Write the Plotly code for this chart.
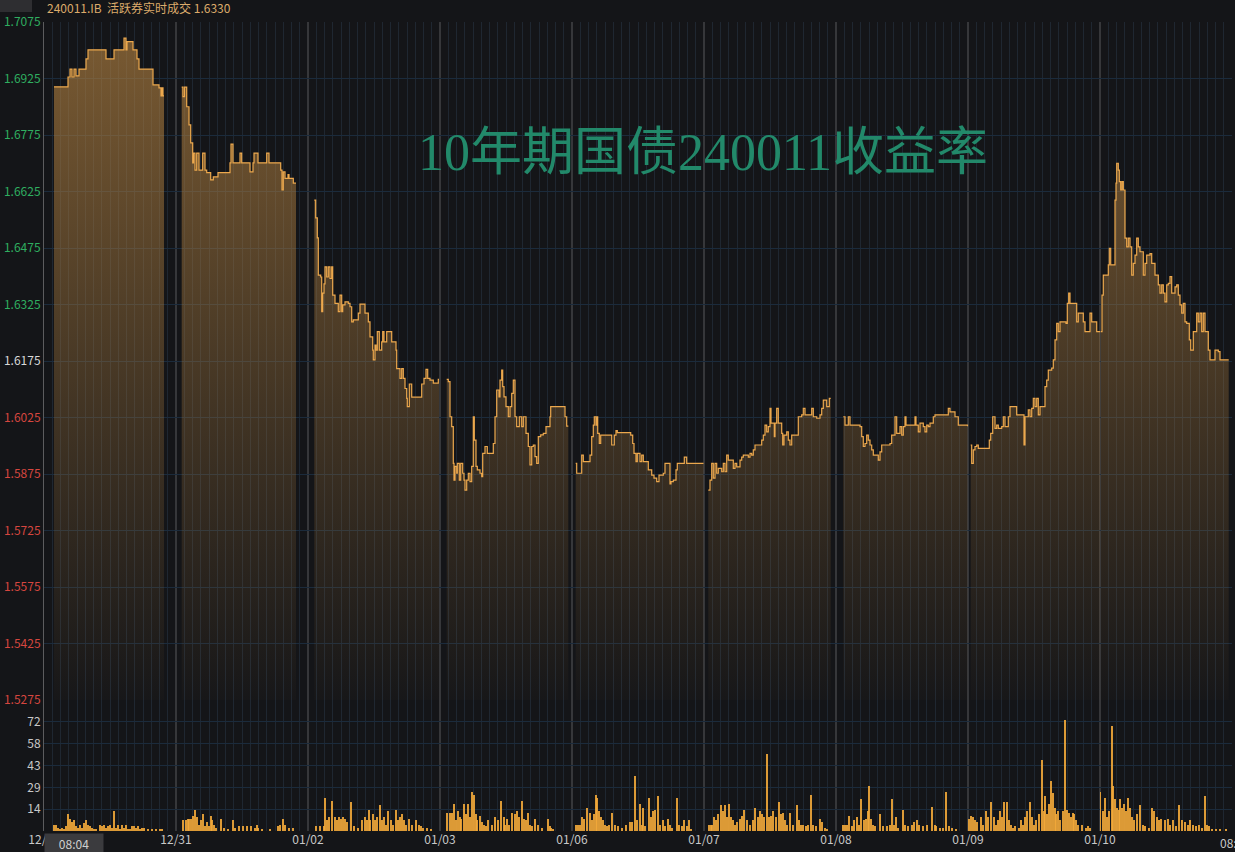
import plotly.graph_objects as go

# ---------------- data ----------------
DAY_LEN = 132  # time slots per trading session on the x axis
day_labels = ["12/30", "12/31", "01/02", "01/03", "01/06", "01/07", "01/08", "01/09", "01/10"]
end_label = "08:04"

# yield change points per session: (slot, yield)
yld_1230 = [(10, 1.6903), (24, 1.6929), (26, 1.6950), (28, 1.6929), (30, 1.6950), (32, 1.6932), (35, 1.6950),
            (42, 1.6977), (44, 1.7001), (62, 1.6977), (70, 1.7001), (80, 1.7032), (82, 1.7001), (83, 1.7023),
            (89, 1.7001), (93, 1.6977), (95, 1.6950), (109, 1.6908), (115, 1.6900), (117, 1.6879), (118, 1.6900),
            (119, 1.6879), (120, 1.6879)]
yld_1231 = [(5.7, 1.6902), (7, 1.6877), (8.5, 1.6902), (10.7, 1.6850), (13, 1.6802), (14.7, 1.6754), (16.7, 1.6701),
            (17.5, 1.6727), (19, 1.6682), (20.7, 1.6727), (23, 1.6682), (26.7, 1.6727), (29, 1.6682), (30.7, 1.6675),
            (34.7, 1.6656), (37.3, 1.6664), (42, 1.6675), (54, 1.6701), (55, 1.6751), (57, 1.6701), (64, 1.6727),
            (65.7, 1.6701), (74, 1.6677), (77, 1.6701), (78, 1.6727), (82, 1.6701), (90.7, 1.6727), (93, 1.6701),
            (104.7, 1.6682), (106, 1.6629), (107.3, 1.6677), (109, 1.6660), (112, 1.6670), (113, 1.6660),
            (117.3, 1.6647), (120, 1.6647)]
yld_0102 = [(6.3, 1.6602), (7.7, 1.6555), (9.3, 1.6502), (10.3, 1.6403), (12.7, 1.6398), (13.7, 1.6306), (14.7, 1.6355),
            (16, 1.6380), (17, 1.6425), (18.7, 1.6398), (20.3, 1.6425), (22, 1.6394), (23.7, 1.6425), (24.7, 1.6350),
            (27, 1.6328), (30.3, 1.6306), (32, 1.6350), (33.7, 1.6306), (34.7, 1.6324), (37, 1.6332), (40.3, 1.6328),
            (42, 1.6319), (43.7, 1.6279), (45.3, 1.6284), (50.3, 1.6302), (52, 1.6326), (55.3, 1.6326), (57, 1.6302),
            (60.3, 1.6279), (62, 1.6239), (64.7, 1.6204), (65.3, 1.6178), (67, 1.6217), (68, 1.6204), (69.3, 1.6253),
            (71.3, 1.6204), (73.7, 1.6226), (74.7, 1.6253), (76, 1.6226), (78.7, 1.6253), (82, 1.6253), (83.7, 1.6226),
            (87, 1.6226), (88, 1.6204), (88.7, 1.6155), (92, 1.6129), (93.7, 1.6155), (95.3, 1.6129), (97, 1.6102),
            (98.7, 1.6076), (99.3, 1.6054), (101.3, 1.6114), (103.7, 1.6079), (112, 1.6079), (113.7, 1.6114),
            (116, 1.6129), (118, 1.6153), (119.7, 1.6129), (122, 1.6124), (125.3, 1.6116), (130.3, 1.6126), (131, 1.6126)]
yld_0103 = [(6.7, 1.6126), (8.3, 1.6120), (10, 1.6027), (11.7, 1.6001), (13.3, 1.5903), (14, 1.5859), (15, 1.5895),
            (16.7, 1.5877), (17.3, 1.5903), (19.3, 1.5859), (20.7, 1.5903), (22.7, 1.5877), (24, 1.5859), (25, 1.5832),
            (26.7, 1.5859), (28.3, 1.5877), (30, 1.5855), (31.7, 1.5895), (33.3, 1.6027), (34.3, 1.5965), (36, 1.5895),
            (37.3, 1.5886), (40, 1.5877), (41.7, 1.5868), (42.7, 1.5930), (45, 1.5948), (47.3, 1.5930), (53.3, 1.5956),
            (55, 1.6027), (56.7, 1.6098), (59, 1.6080), (60, 1.6124), (61.7, 1.6151), (62.7, 1.6107), (64, 1.6080),
            (66, 1.6054), (68.3, 1.6027), (70, 1.6054), (71.7, 1.6089), (73.3, 1.6124), (75, 1.6027), (76.7, 1.6001),
            (79.3, 1.6027), (81.7, 1.6001), (83.3, 1.6027), (86, 1.5983), (88.3, 1.5948), (90, 1.5899), (91.7, 1.5948),
            (93.3, 1.5952), (95, 1.5921), (96.7, 1.5903), (98.3, 1.5974), (100.7, 1.5979), (103.3, 1.5983),
            (106, 1.6001), (110, 1.6027), (110.7, 1.6054), (123.3, 1.6054), (125, 1.6027), (126.7, 1.6002),
            (128.3, 1.6002)]
yld_0106 = [(3.7, 1.5903), (4.7, 1.5877), (9.7, 1.5925), (11.3, 1.5908), (18, 1.5925), (19.7, 1.5974), (21.3, 1.6005),
            (22.3, 1.6027), (24, 1.6005), (24.7, 1.6027), (25.7, 1.5983), (27.3, 1.5956), (28.7, 1.5978), (39.7, 1.5952),
            (42.3, 1.5978), (44, 1.5990), (45.3, 1.5985), (58.7, 1.5978), (60.7, 1.5956), (62, 1.5930), (64, 1.5908),
            (65.3, 1.5930), (68, 1.5908), (69.7, 1.5925), (71.3, 1.5908), (76.3, 1.5886), (79.7, 1.5872), (82, 1.5864),
            (84.7, 1.5855), (87, 1.5872), (91.3, 1.5877), (93, 1.5903), (96.3, 1.5903), (98, 1.5849), (99, 1.5855),
            (101.3, 1.5859), (104, 1.5886), (105.3, 1.5903), (112.3, 1.5920), (114.7, 1.5903), (131.5, 1.5903)]
yld_0107 = [(4.3, 1.5832), (6, 1.5859), (7.7, 1.5903), (9.3, 1.5864), (11, 1.5903), (12.7, 1.5877), (14.3, 1.5890),
            (17.7, 1.5881), (19.3, 1.5903), (21, 1.5881), (22.7, 1.5925), (24.3, 1.5912), (29.3, 1.5890), (31, 1.5903),
            (32.7, 1.5894), (36, 1.5912), (37.7, 1.5920), (39.3, 1.5925), (44.3, 1.5920), (46, 1.5930), (47.7, 1.5925),
            (49.3, 1.5939), (51, 1.5952), (57.7, 1.5965), (59.3, 1.5978), (61, 1.6005), (62.7, 1.5987), (64.3, 1.6001),
            (66, 1.6049), (67, 1.6010), (70.3, 1.5974), (71, 1.6010), (72.7, 1.6049), (74.3, 1.6010), (77.7, 1.5983),
            (78.7, 1.5952), (80, 1.5978), (82.7, 1.5987), (84.3, 1.5965), (86, 1.5952), (87.7, 1.5978), (94.3, 1.6027),
            (97.7, 1.6032), (99.3, 1.6049), (101, 1.6032), (107.7, 1.6049), (109.3, 1.6027), (112.7, 1.6023),
            (116, 1.6032), (117.7, 1.6049), (119.3, 1.6071), (122.7, 1.6054), (125.3, 1.6076), (126.7, 1.6076)]
yld_0108 = [(7.3, 1.6027), (9, 1.6005), (12.3, 1.6027), (14, 1.6005), (24, 1.6001), (25.7, 1.5974), (27.3, 1.5948),
            (29, 1.5956), (30.7, 1.5978), (32.3, 1.5965), (34, 1.5952), (35.7, 1.5939), (37.3, 1.5925), (42.3, 1.5912),
            (44, 1.5934), (45.7, 1.5952), (54, 1.5956), (55.7, 1.5978), (59, 1.6027), (60.7, 1.5983), (64, 1.6001),
            (65.7, 1.5978), (67.3, 1.6001), (69, 1.6027), (70, 1.6005), (79, 1.6027), (80, 1.6005), (82.3, 1.5987),
            (84, 1.6010), (87.3, 1.6001), (89, 1.5987), (90.7, 1.6005), (92.3, 1.6001), (94, 1.6010), (97.3, 1.6027),
            (99, 1.6032), (112.3, 1.6049), (114, 1.6040), (119, 1.6027), (122.3, 1.6005), (131.5, 1.6002)]
yld_0109 = [(2.7, 1.5952), (3.7, 1.5903), (5.3, 1.5939), (7, 1.5948), (8.7, 1.5952), (10.3, 1.5943), (18.7, 1.5943),
            (21.3, 1.5965), (22.7, 1.5983), (24.7, 1.6027), (27, 1.5996), (28.7, 1.6005), (30.3, 1.5996), (33.7, 1.6001),
            (35.3, 1.6027), (37, 1.6001), (40.3, 1.6027), (42, 1.6054), (47, 1.6054), (48.7, 1.6032), (55.3, 1.6032),
            (56, 1.5952), (57, 1.6027), (60.3, 1.6045), (62, 1.6027), (63.7, 1.6049), (65.3, 1.6076), (67, 1.6054),
            (68.7, 1.6076), (70.3, 1.6032), (72, 1.6054), (77, 1.6107), (78.7, 1.6124), (80.3, 1.6151), (83.7, 1.6156),
            (85.3, 1.6178), (87, 1.6231), (88.7, 1.6275), (90.3, 1.6253), (92, 1.6279), (98, 1.6275), (99.3, 1.6328),
            (100.7, 1.6355), (102, 1.6328), (107, 1.6328), (108.7, 1.6279), (110.3, 1.6302), (113.7, 1.6302),
            (115.3, 1.6279), (117, 1.6253), (120.3, 1.6253), (122, 1.6302), (123.7, 1.6279), (127, 1.6279),
            (128.7, 1.6253), (132, 1.6253)]
yld_0110 = [(0.7, 1.6253), (2, 1.6350), (3.3, 1.6403), (8.3, 1.6430), (9.3, 1.6474), (10.7, 1.6430), (15, 1.6602),
            (16, 1.6647), (16.7, 1.6700), (18.3, 1.6682), (19.3, 1.6651), (20.7, 1.6629), (22, 1.6651), (23.3, 1.6629),
            (25, 1.6501), (26.7, 1.6478), (28.3, 1.6501), (30, 1.6478), (31.7, 1.6403), (33.3, 1.6434), (35, 1.6456),
            (36.7, 1.6501), (38.3, 1.6478), (40, 1.6465), (43.3, 1.6403), (45, 1.6434), (46.7, 1.6456), (50, 1.6460),
            (51.7, 1.6434), (55, 1.6403), (58.3, 1.6377), (60, 1.6355), (61.7, 1.6377), (63.3, 1.6355), (65, 1.6332),
            (66.7, 1.6377), (68.3, 1.6381), (70, 1.6399), (71.7, 1.6355), (75, 1.6372), (76.7, 1.6377), (78.3, 1.6350),
            (80, 1.6324), (81.7, 1.6302), (83.3, 1.6328), (85, 1.6279), (86.7, 1.6275), (89.3, 1.6231), (90.7, 1.6204),
            (93.3, 1.6253), (96.7, 1.6302), (98.3, 1.6279), (100, 1.6302), (101.7, 1.6253), (103.3, 1.6302),
            (105, 1.6253), (108.3, 1.6204), (110, 1.6178), (115, 1.6204), (118.3, 1.6200), (120, 1.6178),
            (128.7, 1.6178)]

# traded volume per session: (slot, volume)
vol_1230 = [(10, 4), (12, 4), (14, 2), (16, 1), (18, 2), (20, 1), (22, 3), (24, 11), (26, 8), (28, 6), (30, 7), (32, 3),
            (34, 2), (36, 4), (38, 2), (40, 5), (42, 7), (44, 4), (46, 3), (48, 2), (50, 1), (52, 1), (56, 4), (58, 3),
            (60, 4), (62, 2), (64, 3), (66, 4), (68, 2), (70, 13), (72, 2), (74, 4), (76, 1), (78, 4), (80, 2), (82, 4),
            (84, 1), (86, 1), (88, 3), (90, 3), (92, 2), (94, 3), (96, 1), (98, 2), (100, 2), (104, 1), (108, 1),
            (112, 1), (116, 1), (118, 1)]
vol_1231 = [(7, 7), (10, 7), (12, 8), (13, 8), (15, 8), (17, 10), (19, 14), (21, 9), (23, 4), (25, 7), (27, 11), (29, 3),
            (31, 6), (33, 3), (35, 10), (36, 7), (38, 4), (40, 2), (45, 8), (48, 2), (52, 1), (57, 7), (59, 2), (63, 3),
            (67, 3), (71, 3), (75, 3), (79, 2), (81, 4), (82, 2), (86, 1), (94, 1), (102, 3), (104, 4), (107, 8),
            (109, 4), (113, 2), (117, 2)]
vol_0102 = [(8, 3), (12, 3), (16, 3), (17, 22), (19, 7), (21, 9), (24, 20), (27, 9), (29, 7), (31, 9), (33, 8), (35, 9),
            (37, 8), (39, 6), (43, 19), (46, 3), (50, 2), (54, 7), (57, 9), (59, 7), (61, 14), (62, 7), (65, 11), (67, 7),
            (69, 9), (72, 17), (74, 7), (76, 9), (78, 4), (80, 13), (83, 7), (85, 4), (88, 14), (90, 7), (92, 9),
            (94, 11), (96, 7), (98, 4), (101, 8), (104, 4), (108, 7), (111, 4), (113, 3), (115, 2), (119, 2), (123, 1)]
vol_0103 = [(7, 12), (10, 12), (12, 12), (14, 18), (16, 7), (18, 13), (20, 9), (21, 8), (24, 18), (26, 11), (28, 18),
            (30, 9), (32, 26), (34, 24), (36, 11), (37, 7), (40, 10), (42, 6), (44, 4), (46, 3), (48, 7), (52, 4),
            (55, 9), (58, 7), (61, 20), (64, 9), (65, 4), (67, 8), (69, 4), (72, 12), (75, 11), (77, 13), (79, 9),
            (82, 20), (84, 8), (86, 7), (88, 12), (90, 4), (92, 3), (95, 8), (98, 4), (102, 2), (108, 8), (110, 3),
            (111, 2), (113, 1)]
vol_0106 = [(4, 4), (6, 4), (8, 4), (10, 9), (12, 8), (15, 15), (18, 12), (20, 7), (22, 11), (24, 24), (25, 22), (27, 13),
            (29, 9), (31, 7), (33, 4), (35, 3), (37, 4), (40, 12), (43, 4), (46, 3), (50, 2), (54, 4), (58, 6), (60, 6),
            (63, 36), (65, 7), (68, 18), (70, 4), (71, 15), (73, 3), (77, 22), (79, 9), (81, 13), (83, 14), (86, 23),
            (88, 4), (91, 7), (93, 3), (96, 8), (98, 4), (100, 2), (105, 22), (107, 4), (110, 3), (112, 7), (115, 3),
            (117, 7), (119, 1)]
vol_0107 = [(5, 4), (7, 4), (8, 4), (10, 9), (12, 7), (14, 11), (17, 17), (19, 13), (21, 17), (23, 9), (25, 18), (27, 9),
            (29, 7), (31, 4), (33, 6), (36, 8), (38, 10), (40, 14), (43, 7), (46, 4), (49, 7), (51, 15), (54, 9),
            (56, 13), (58, 11), (60, 9), (63, 51), (65, 9), (67, 10), (69, 13), (72, 9), (75, 19), (77, 11), (79, 12),
            (81, 7), (83, 4), (86, 12), (89, 4), (93, 17), (95, 7), (97, 4), (99, 4), (102, 3), (104, 4), (107, 24),
            (109, 4), (112, 3), (116, 8), (118, 6), (121, 2), (123, 1)]
vol_0108 = [(7, 4), (9, 4), (11, 4), (13, 10), (16, 3), (18, 7), (21, 9), (23, 4), (25, 21), (28, 7), (30, 8), (32, 13),
            (33, 30), (35, 8), (37, 4), (39, 3), (44, 11), (47, 3), (51, 3), (54, 4), (56, 21), (58, 4), (60, 9), (62, 2),
            (67, 14), (69, 4), (72, 3), (76, 4), (78, 6), (81, 7), (83, 4), (87, 3), (91, 4), (96, 16), (99, 4),
            (100, 3), (104, 2), (107, 2), (110, 26), (113, 3), (116, 2), (120, 1)]
vol_0109 = [(1, 8), (3, 10), (5, 9), (7, 7), (9, 6), (13, 9), (15, 4), (18, 13), (20, 9), (23, 19), (26, 9), (28, 4),
            (30, 7), (32, 13), (34, 9), (36, 19), (39, 19), (41, 7), (43, 4), (45, 2), (47, 3), (51, 2), (53, 7), (55, 4),
            (57, 9), (59, 13), (62, 19), (64, 9), (66, 4), (68, 7), (71, 11), (74, 47), (76, 13), (77, 23), (79, 11),
            (81, 18), (83, 33), (85, 25), (87, 15), (88, 11), (90, 13), (92, 7), (95, 13), (97, 73), (99, 14),
            (101, 12), (103, 9), (105, 12), (106, 11), (108, 7), (110, 4), (114, 4), (118, 2), (120, 3), (122, 2)]
vol_0110 = [(0.5, 26), (3, 13), (5, 22), (7, 9), (9, 13), (12, 69), (13, 30), (15, 21), (17, 15), (19, 14), (20, 21),
            (22, 15), (24, 18), (26, 13), (28, 22), (30, 15), (32, 9), (34, 7), (37, 11), (40, 17), (43, 4), (45, 3),
            (49, 2), (52, 15), (54, 13), (57, 9), (59, 7), (61, 8), (65, 7), (68, 8), (70, 4), (73, 7), (76, 3),
            (79, 17), (82, 7), (85, 6), (88, 4), (90, 7), (93, 4), (96, 3), (99, 4), (102, 2), (105, 23), (107, 4),
            (109, 3), (112, 1), (116, 1), (120, 1), (126, 1)]

yield_days = [yld_1230, yld_1231, yld_0102, yld_0103, yld_0106, yld_0107, yld_0108, yld_0109, yld_0110]
volume_days = [vol_1230, vol_1231, vol_0102, vol_0103, vol_0106, vol_0107, vol_0108, vol_0109, vol_0110]

y_ticks = [1.5275, 1.5425, 1.5575, 1.5725, 1.5875, 1.6025, 1.6175, 1.6325, 1.6475, 1.6625, 1.6775, 1.6925, 1.7075]
ref_yield = 1.6175
vol_ticks = [14.4, 28.8, 43.2, 57.6, 72.0]
vol_tick_text = ["14", "29", "43", "58", "72"]

header_text = "240011.IB\u00a0\u00a0活跃券实时成交 1.6330"
title_text = "10年期国债240011收益率"

# ---------------- figure ----------------
BG = "#141518"
LINE = "#eca84d"
Y_LO, Y_HI = 1.5275, 1.7075
V_HI = 86.4
n_days = len(day_labels)
W, H = 1235, 852
ML, MR, MT, MB = 44, 3, 22, 21
plot_h = H - MT - MB
split = (H - MB - 700) / plot_h  # price/volume boundary

fig = go.Figure()

for i, pts in enumerate(yield_days):
    xs = [i * DAY_LEN + t for t, _ in pts]
    ys = [v for _, v in pts]
    fig.add_trace(go.Scatter(
        x=xs, y=ys, mode="lines", xaxis="x", yaxis="y",
        line=dict(color=LINE, width=1.2, shape="hv"),
        fill="tozeroy",
        fillgradient=dict(type="vertical",
                          colorscale=[[0, "rgba(180,130,65,0.02)"], [1, "rgba(180,130,65,0.64)"]],
                          start=Y_LO, stop=Y_HI),
        hoverinfo="skip", showlegend=False))

vx, vy = [], []
for i, pts in enumerate(volume_days):
    vx += [i * DAY_LEN + t for t, _ in pts]
    vy += [v for _, v in pts]
fig.add_trace(go.Bar(x=vx, y=vy, width=1.5, xaxis="x", yaxis="y2",
                     marker=dict(color="rgba(242,168,58,0.9)", line=dict(width=0)),
                     hoverinfo="skip", showlegend=False))

def lab_color(v):
    if abs(v - ref_yield) < 1e-9:
        return "#d8d8d8"
    return "#2fae60" if v > ref_yield else "#d6463f"

y_text = [f"<span style='color:{lab_color(v)}'>{v:.4f}</span>" for v in y_ticks]

x_tickvals = [i * DAY_LEN for i in range(n_days)] + [n_days * DAY_LEN]
x_ticktext = day_labels + [""]

font_fam = "Noto Sans CJK SC, Noto Sans, sans-serif"

fig.update_layout(
    width=W, height=H,
    margin=dict(l=ML, r=MR, t=MT, b=MB),
    paper_bgcolor=BG, plot_bgcolor=BG,
    bargap=0,
    font=dict(family=font_fam, size=12, color="#c8c8c8"),
    xaxis=dict(domain=[0, 1], anchor="y2", range=[0, n_days * DAY_LEN],
               tickmode="array", tickvals=x_tickvals, ticktext=x_ticktext,
               showgrid=True, gridcolor="#36373a", gridwidth=2,
               minor=dict(tick0=0, dtick=DAY_LEN / 16, showgrid=True, gridcolor="#1f2731", gridwidth=1),
               ticks="", zeroline=False, showline=False,
               tickfont=dict(size=12, color="#c8c8c8"), automargin=False),
    yaxis=dict(domain=[split, 1], range=[Y_LO, Y_HI], tickmode="array",
               tickvals=y_ticks, ticktext=y_text,
               showgrid=True, gridcolor="#1b2b3c", gridwidth=1, zeroline=False,
               showline=True, linecolor="#5c5c5e", linewidth=1, ticks="",
               tickfont=dict(size=12), automargin=False),
    yaxis2=dict(domain=[0, split], range=[0, V_HI], tickmode="array",
                tickvals=vol_ticks + [V_HI], ticktext=vol_tick_text + [""],
                showgrid=True, gridcolor="#1b2b3c", gridwidth=1, zeroline=False,
                showline=True, linecolor="#5c5c5e", linewidth=1, ticks="",
                tickfont=dict(size=12, color="#c8c8c8"), automargin=False),
)

pw = W - ML - MR
def px_x(p):
    return (p - ML) / pw
def px_y(p):
    return (H - MB - p) / plot_h

fig.add_shape(type="rect", xref="paper", yref="paper",
              x0=px_x(0), x1=px_x(32), y0=px_y(12), y1=px_y(0),
              fillcolor="#2e2e31", line=dict(width=0), layer="above")

fig.add_annotation(text=title_text, xref="paper", yref="paper",
                   x=px_x(703), y=px_y(152), xanchor="center", yanchor="middle", showarrow=False,
                   font=dict(family="Liberation Serif, DejaVu Serif, Noto Sans CJK SC, serif", size=52, color="#22896a"))
fig.add_annotation(text=header_text, xref="paper", yref="paper",
                   x=px_x(45), y=px_y(8), xanchor="left", yanchor="middle", showarrow=False,
                   font=dict(family=font_fam, size=12, color="#dcab6b"))
fig.add_annotation(text=end_label, xref="paper", yref="paper",
                   x=px_x(44), y=px_y(843), xanchor="left", yanchor="middle", showarrow=False,
                   bgcolor="#3b3b3e", width=56, height=16,
                   font=dict(family=font_fam, size=12, color="#d0d0d0"))
# last-trade time label at the right edge (partly outside the page, as in the source)
fig.add_annotation(text=end_label, xref="paper", yref="paper",
                   x=px_x(1218), y=px_y(843), xanchor="left", yanchor="middle", showarrow=False,
                   font=dict(family=font_fam, size=12, color="#c8c8c8"))

fig.write_html("out.html", config={"displayModeBar": False},
               post_script="document.body.style.margin='0';document.body.style.overflow='hidden';")
